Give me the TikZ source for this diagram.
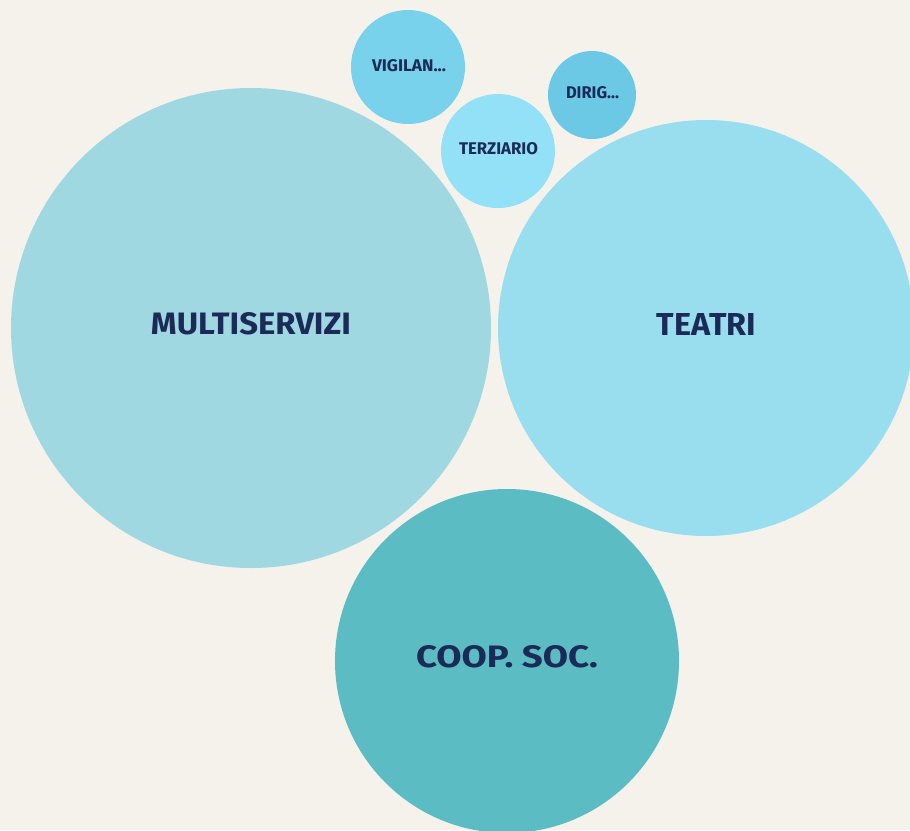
\documentclass[tikz,border=0pt]{standalone}
\usepackage{fontspec}
\setmainfont{Fira Sans}[UprightFont={* Bold}]
\definecolor{bg}{HTML}{F4F2EA}
\definecolor{cMulti}{HTML}{A0D8E2}
\definecolor{cTeatri}{HTML}{98DEEF}
\definecolor{cCoop}{HTML}{5BBDC3}
\definecolor{cTerz}{HTML}{92E1F6}
\definecolor{cVig}{HTML}{78D2EC}
\definecolor{cDir}{HTML}{6CC9E6}
\definecolor{ink}{HTML}{1B2A56}
\begin{document}
\begin{tikzpicture}[x=1pt,y=-1pt,
  bub/.style={circle,inner sep=0pt,draw=none},
  lab/.style={text=ink,inner sep=0pt,anchor=center}]
\fill[bg] (0,0) rectangle (910,830);
\useasboundingbox (0,0) rectangle (910,830);
\begin{scope}
\clip (0,0) rectangle (910,830);
\node[bub,fill=cMulti,minimum size=480pt] (multi) at (251,328) {};
\node[bub,fill=cTeatri,minimum size=416pt] (teatri) at (706,328) {};
\node[bub,fill=cCoop,minimum size=344pt] (coop) at (507,661) {};
\node[bub,fill=cTerz,minimum size=114pt] (terz) at (498,151) {};
\node[bub,fill=cVig,minimum size=114pt] (vig) at (408,67) {};
\node[bub,fill=cDir,minimum size=88pt] (dir) at (592,95) {};
\end{scope}
\node[lab] (tmulti) at (251,324) {\resizebox{200pt}{22pt}{MULTISERVIZI}};
\node[lab] (tteatri) at (706.5,324) {\resizebox{99pt}{22pt}{TEATRI}};
\node[lab] (tcoop) at (507,657) {\resizebox{182pt}{22pt}{COOP. SOC.}};
\node[lab] (tterz) at (498.5,149) {\resizebox{79pt}{12pt}{TERZIARIO}};
\node[lab] (tvig) at (409,66) {\resizebox{74pt}{12pt}{VIGILAN...}};
\node[lab] (tdir) at (592.5,93) {\resizebox{53pt}{12pt}{DIRIG...}};
\end{tikzpicture}
\end{document}
